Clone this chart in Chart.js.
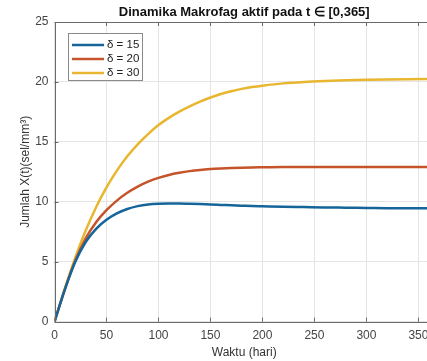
<!DOCTYPE html>
<html>
<head>
<meta charset="utf-8">
<script src="https://cdn.jsdelivr.net/npm/chart.js@4"></script>
<style>
  html, body { margin: 0; padding: 0; overflow: hidden; background: #fff; }
  #wrap { width: 488px; height: 361px; }
</style>
</head>
<body>
<div id="wrap"><canvas id="c" width="488" height="361"></canvas></div>
<script>
// ---- data ----
const titleText = 'Dinamika Makrofag aktif pada t \u2208 [0,365]';
const xTitle = 'Waktu (hari)';
const yTitle = 'Jumlah X(t)(sel/mm\u00B3)';
const seriesLabels = ['\u03B4 = 15', '\u03B4 = 20', '\u03B4 = 30'];
const days = [0,10,20,30,40,50,60,70,80,90,100,110,120,130,140,150,160,170,180,190,200,220,240,260,280,300,320,340,365];
const delta15 = [0,2.7,5.0,6.65,7.75,8.5,9.03,9.4,9.64,9.78,9.84,9.86,9.86,9.84,9.81,9.77,9.74,9.71,9.68,9.65,9.63,9.59,9.56,9.53,9.51,9.49,9.47,9.46,9.45];
const delta20 = [0,2.7,5.1,6.95,8.3,9.3,10.1,10.75,11.27,11.68,12.0,12.24,12.42,12.56,12.66,12.73,12.78,12.82,12.85,12.87,12.88,12.9,12.9,12.9,12.9,12.9,12.9,12.9,12.9];
const delta30 = [0,2.8,5.35,7.6,9.55,11.2,12.6,13.8,14.8,15.65,16.4,17.0,17.52,17.97,18.36,18.7,18.99,19.23,19.42,19.57,19.69,19.88,20.0,20.08,20.14,20.18,20.21,20.23,20.25];
const xTicks = [0,50,100,150,200,250,300,350];
const yTicks = [0,5,10,15,20,25];
const colors = ['#15659a', '#c5542a', '#e8b62f'];

const FONT = '"Liberation Sans", Arial, Helvetica, sans-serif';
const toPts = (vals) => days.map((d, i) => ({ x: d, y: vals[i] }));

// title centred over plot, inward ticks, box, legend
const matlabPlugin = {
  id: 'matlab',
  afterDraw(chart) {
    const ctx = chart.ctx;
    const a = chart.chartArea;
    const xs = chart.scales.x, ys = chart.scales.y;
    ctx.save();
    ctx.strokeStyle = '#6a6a6a';
    ctx.lineWidth = 1;
    ctx.beginPath();
    ctx.rect(Math.round(a.left) + 0.5, Math.round(a.top) + 0.5, Math.round(a.right - a.left), Math.round(a.bottom - a.top));
    ctx.stroke();
    ctx.beginPath();
    xTicks.forEach(v => {
      const px = Math.round(xs.getPixelForValue(v)) + 0.5;
      ctx.moveTo(px, a.bottom); ctx.lineTo(px, a.bottom - 4);
      ctx.moveTo(px, a.top); ctx.lineTo(px, a.top + 4);
    });
    yTicks.forEach(v => {
      const py = Math.round(ys.getPixelForValue(v)) + 0.5;
      ctx.moveTo(a.left, py); ctx.lineTo(a.left + 4, py);
    });
    ctx.stroke();

    // title
    ctx.fillStyle = '#111';
    ctx.font = 'bold 13px ' + FONT;
    ctx.textAlign = 'center';
    ctx.textBaseline = 'middle';
    ctx.fillText(titleText, (a.left + a.right) / 2, 12);

    // legend box
    const bx = 68.5, by = 33.5, bw = 74, bh = 47;
    ctx.fillStyle = '#ffffff';
    ctx.fillRect(bx, by, bw, bh);
    ctx.strokeStyle = '#8a8a8a';
    ctx.lineWidth = 1;
    ctx.strokeRect(bx, by, bw, bh);
    ctx.font = '11.5px ' + FONT;
    ctx.textBaseline = 'middle';
    ctx.textAlign = 'left';
    chart.data.datasets.forEach((ds, i) => {
      const y = 45 + i * 14;
      ctx.strokeStyle = ds.borderColor;
      ctx.lineWidth = 2.5;
      ctx.beginPath();
      ctx.moveTo(72, y); ctx.lineTo(104, y);
      ctx.stroke();
      ctx.fillStyle = '#222';
      ctx.fillText(ds.label, 107, y);
    });
    ctx.restore();
  }
};

new Chart(document.getElementById('c'), {
  type: 'line',
  data: {
    datasets: seriesLabels.map((lab, i) => ({
      label: lab,
      data: toPts([delta15, delta20, delta30][i]),
      borderColor: colors[i],
      backgroundColor: colors[i],
      borderWidth: 2.5,
      pointRadius: 0,
      cubicInterpolationMode: 'monotone',
      fill: false
    }))
  },
  options: {
    responsive: false,
    animation: false,
    layout: { padding: { left: 0, right: 54, top: 22, bottom: 0 } },
    plugins: {
      legend: { display: false },
      tooltip: { enabled: false },
      title: { display: false }
    },
    scales: {
      x: {
        type: 'linear',
        min: 0, max: 365,
        afterFit(s) { s.height = 39.3; },
        ticks: {
          stepSize: 50, includeBounds: false,
          color: '#444', padding: 7,
          font: { family: FONT, size: 12 },
          maxRotation: 0
        },
        grid: { color: '#e4e4e4', drawTicks: false },
        border: { display: false },
        title: { display: true, text: xTitle, color: '#333', font: { family: FONT, size: 12 }, padding: { top: 0, bottom: 1 } }
      },
      y: {
        min: 0, max: 25,
        afterFit(s) { s.width = 54.5; },
        ticks: {
          stepSize: 5, color: '#444', padding: 6,
          font: { family: FONT, size: 12 }
        },
        grid: { color: '#e4e4e4', drawTicks: false },
        border: { display: false },
        title: { display: true, text: yTitle, color: '#333', font: { family: FONT, size: 12 }, padding: { top: 18, bottom: 0 } }
      }
    }
  },
  plugins: [matlabPlugin]
});
</script>
</body>
</html>
